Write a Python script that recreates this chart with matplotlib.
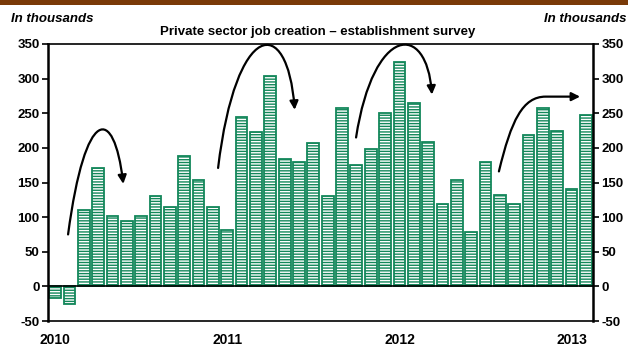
import matplotlib
matplotlib.use("Agg")
import matplotlib.pyplot as plt
from matplotlib.path import Path
from matplotlib.patches import FancyArrowPatch, Rectangle
import numpy as np

# Monthly private payroll changes, Jan 2010 - Feb 2013 (thousands)
months = ["2010-%02d" % m for m in range(1, 13)] + \
         ["2011-%02d" % m for m in range(1, 13)] + \
         ["2012-%02d" % m for m in range(1, 13)] + \
         ["2013-01", "2013-02"]
job_gains = [-17, -26, 111, 171, 102, 94, 102, 131, 114, 188, 153, 115,
             81, 244, 223, 304, 184, 179, 207, 130, 257, 175, 199, 250,
             324, 265, 209, 119, 153, 78, 179, 132, 119, 218, 257, 224,
             141, 248]
year_labels = ["2010", "2011", "2012", "2013"]
year_positions = [0, 12, 24, 36]
y_ticks = [-50, 0, 50, 100, 150, 200, 250, 300, 350]

plt.rcParams["font.family"] = ["Liberation Sans", "DejaVu Sans"]
plt.rcParams["hatch.linewidth"] = 1.0

GREEN = "#13875a"
BROWN = "#7a3a08"

fig = plt.figure(figsize=(6.28, 3.46), dpi=100)
ax = fig.add_axes([48 / 628, 1 - 321 / 346, 545 / 628, 277 / 346])

x = np.arange(len(job_gains))
ax.bar(x, job_gains, width=0.82, facecolor="white", edgecolor=GREEN,
       linewidth=1.3, hatch="------", zorder=2)

ax.set_xlim(-0.5, len(job_gains) - 0.5)
ax.set_ylim(-50, 350)
ax.axhline(0, color="black", linewidth=1.2, zorder=3)

ax.set_yticks(y_ticks)
ax.set_yticklabels([str(v) for v in y_ticks], fontsize=9.5, fontweight="bold")
ax.tick_params(axis="y", which="both", direction="out", length=4, width=1.2,
               left=True, right=True, labelleft=True, labelright=True, pad=2)
ax.set_xticks(year_positions)
ax.set_xticklabels(year_labels, fontsize=10, fontweight="bold")
ax.tick_params(axis="x", length=0, pad=9)

for side in ["left", "right"]:
    ax.spines[side].set_linewidth(1.8)
for side in ["top", "bottom"]:
    ax.spines[side].set_linewidth(1.2)

# Hand-drawn trend arrows
arc_paths = [
    ([(0.9, 75), (2.1, 262), (4.1, 262), (4.75, 148)],
     [Path.MOVETO, Path.CURVE4, Path.CURVE4, Path.CURVE4]),
    ([(11.36, 171), (12.6, 385), (16.2, 395), (16.7, 255)],
     [Path.MOVETO, Path.CURVE4, Path.CURVE4, Path.CURVE4]),
    ([(20.98, 215), (22.2, 378), (25.9, 383), (26.27, 277)],
     [Path.MOVETO, Path.CURVE4, Path.CURVE4, Path.CURVE4]),
    ([(30.94, 166), (31.8, 240), (32.6, 274), (34.2, 274), (36.6, 274)],
     [Path.MOVETO, Path.CURVE4, Path.CURVE4, Path.CURVE4, Path.LINETO]),
]
for verts, codes in arc_paths:
    arrow = FancyArrowPatch(path=Path(verts, codes), arrowstyle="-|>,head_length=5,head_width=2.5",
                            color="black", linewidth=1.6, clip_on=False,
                            zorder=5, transform=ax.transData)
    ax.add_patch(arrow)

fig.add_artist(Rectangle((0, 1 - 5 / 346), 1, 5 / 346, transform=fig.transFigure,
                         facecolor=BROWN, edgecolor="none"))
fig.text(11 / 628, 1 - 19 / 346, "In thousands", fontsize=9.5, fontweight="bold",
         fontstyle="italic", ha="left", va="center")
fig.text(626 / 628, 1 - 19 / 346, "In thousands", fontsize=9.5, fontweight="bold",
         fontstyle="italic", ha="right", va="center")
fig.text(318 / 628, 1 - 32 / 346, "Private sector job creation \u2013 establishment survey",
         fontsize=9.5, fontweight="bold", ha="center", va="center")

fig.savefig("out.png", dpi=100)
